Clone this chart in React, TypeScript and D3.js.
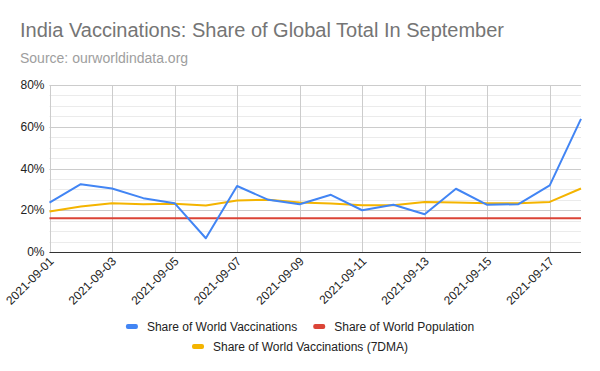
import React, { useRef, useEffect } from 'react';
import * as d3 from 'd3';

const dates = [
  '2021-09-01', '2021-09-02', '2021-09-03', '2021-09-04', '2021-09-05', '2021-09-06',
  '2021-09-07', '2021-09-08', '2021-09-09', '2021-09-10', '2021-09-11', '2021-09-12',
  '2021-09-13', '2021-09-14', '2021-09-15', '2021-09-16', '2021-09-17', '2021-09-18',
];
const worldVaccinations = [
  0.237, 0.325, 0.304, 0.258, 0.234, 0.066, 0.316, 0.25, 0.229, 0.274, 0.2, 0.226,
  0.181, 0.303, 0.226, 0.229, 0.319, 0.638,
];
const worldVaccinations7dma = [
  0.194, 0.218, 0.234, 0.229, 0.231, 0.223, 0.247, 0.25, 0.237, 0.232, 0.224, 0.224,
  0.24, 0.237, 0.234, 0.234, 0.24, 0.304,
];
const worldPopulation = dates.map(() => 0.162);
const yTicks = [0, 0.2, 0.4, 0.6, 0.8];

const series = [
  { name: 'Share of World Vaccinations', color: '#4285f4', values: worldVaccinations },
  { name: 'Share of World Population', color: '#db4437', values: worldPopulation },
  { name: 'Share of World Vaccinations (7DMA)', color: '#f4b400', values: worldVaccinations7dma },
];

const width = 600;
const height = 371;
const margin = { top: 85, right: 19, bottom: 119, left: 49.5 };
const font = '"Liberation Sans", Arial, sans-serif';

const App = () => {
  const ref = useRef<SVGSVGElement | null>(null);

  useEffect(() => {
    if (!ref.current) return;
    const svg = d3.select(ref.current);
    svg.selectAll('*').remove();

    const x = d3
      .scalePoint<string>()
      .domain(dates)
      .range([margin.left, width - margin.right]);
    const y = d3
      .scaleLinear()
      .domain([0, 0.8])
      .range([height - margin.bottom, margin.top]);

    // title
    svg
      .append('text')
      .attr('x', 20)
      .attr('y', 37)
      .attr('font-family', font)
      .attr('font-size', 20)
      .attr('fill', '#757575')
      .text('India Vaccinations: Share of Global Total In September');
    svg
      .append('text')
      .attr('x', 20)
      .attr('y', 63)
      .attr('font-family', font)
      .attr('font-size', 14)
      .attr('fill', '#9e9e9e')
      .text('Source: ourworldindata.org');

    // minor grid
    const minor = d3.range(0, 0.8001, 0.05);
    svg
      .append('g')
      .selectAll('line')
      .data(minor)
      .enter()
      .append('line')
      .attr('x1', margin.left)
      .attr('x2', width - margin.right)
      .attr('y1', (d) => Math.round(y(d)) + 0.5)
      .attr('y2', (d) => Math.round(y(d)) + 0.5)
      .attr('stroke', '#ebebeb');

    // major grid
    svg
      .append('g')
      .selectAll('line')
      .data(yTicks)
      .enter()
      .append('line')
      .attr('x1', margin.left)
      .attr('x2', width - margin.right)
      .attr('y1', (d) => Math.round(y(d)) + 0.5)
      .attr('y2', (d) => Math.round(y(d)) + 0.5)
      .attr('stroke', '#cccccc');

    const xTicks = dates.filter((_, i) => i % 2 === 0);
    svg
      .append('g')
      .selectAll('line')
      .data(xTicks)
      .enter()
      .append('line')
      .attr('x1', (d) => Math.round(x(d) ?? 0) + 0.5)
      .attr('x2', (d) => Math.round(x(d) ?? 0) + 0.5)
      .attr('y1', margin.top)
      .attr('y2', height - margin.bottom)
      .attr('stroke', '#cccccc');

    // y labels
    svg
      .append('g')
      .selectAll('text')
      .data(yTicks)
      .enter()
      .append('text')
      .attr('x', margin.left - 5)
      .attr('y', (d) => y(d))
      .attr('dy', '0.35em')
      .attr('text-anchor', 'end')
      .attr('font-family', font)
      .attr('font-size', 12)
      .attr('fill', '#222')
      .text((d) => d3.format('.0%')(d));

    // x labels
    svg
      .append('g')
      .selectAll('text')
      .data(xTicks)
      .enter()
      .append('text')
      .attr('transform', (d) => `translate(${(x(d) ?? 0) + 5},${height - margin.bottom + 10}) rotate(-45)`)
      .attr('text-anchor', 'end')
      .attr('font-family', font)
      .attr('font-size', 12)
      .attr('fill', '#222')
      .text((d) => d);

    // lines
    const line = d3
      .line<number>()
      .x((_, i) => x(dates[i]) ?? 0)
      .y((d) => y(d));

    [series[1], series[2], series[0]].forEach((s) => {
      svg
        .append('path')
        .datum(s.values)
        .attr('fill', 'none')
        .attr('stroke', s.color)
        .attr('stroke-width', 2)
        .attr('stroke-linejoin', 'round')
        .attr('d', line);
    });

    // baseline
    svg
      .append('line')
      .attr('x1', margin.left)
      .attr('x2', width - margin.right)
      .attr('y1', Math.round(y(0)) + 0.5)
      .attr('y2', Math.round(y(0)) + 0.5)
      .attr('stroke', '#333');

    // legend
    const rows = [
      { items: [series[0], series[1]], y: 327 },
      { items: [series[2]], y: 347 },
    ];
    rows.forEach((row) => {
      const g = svg.append('g');
      let cx = 0;
      row.items.forEach((s, i) => {
        if (i > 0) cx += 16;
        g.append('rect')
          .attr('x', cx)
          .attr('y', row.y - 3)
          .attr('width', 12)
          .attr('height', 5)
          .attr('rx', 2)
          .attr('fill', s.color);
        const t = g
          .append('text')
          .attr('x', cx + 21)
          .attr('y', row.y)
          .attr('dy', '0.35em')
          .attr('font-family', font)
          .attr('font-size', 12)
          .attr('fill', '#222')
          .text(s.name);
        const w = (t.node() as SVGTextElement).getComputedTextLength();
        cx += 21 + w;
      });
      g.attr('transform', `translate(${(width - cx) / 2},0)`);
    });
  }, []);

  return <svg ref={ref} width={width} height={height} style={{ display: 'block', position: 'absolute', left: 0, top: 0 }} />;
};

export default App;
